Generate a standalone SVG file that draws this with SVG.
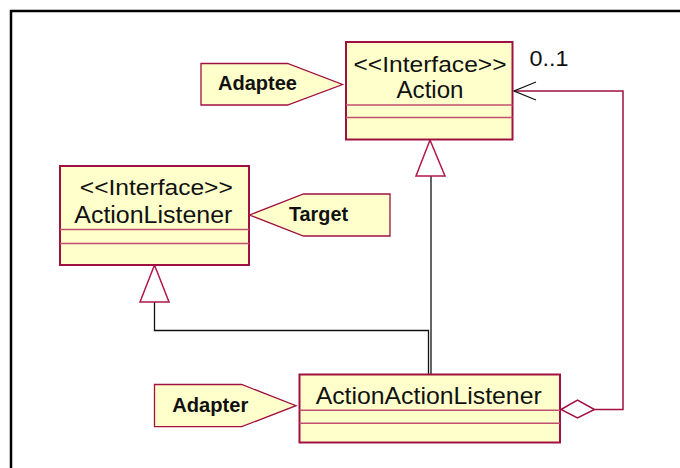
<svg xmlns="http://www.w3.org/2000/svg" width="680" height="468" viewBox="0 0 680 468">
<style>
.box{fill:#FFFFCC;stroke:#A01040;stroke-width:2}
.sep{stroke:#C05070;stroke-width:1.5}
.note{fill:#FFFFCC;stroke:#A01040;stroke-width:1.3}
.t{font-family:"Liberation Sans",Arial,sans-serif;font-size:22px;fill:#111}
.n{font-size:23px}
.b{font-family:"Liberation Sans",Arial,sans-serif;font-size:19.5px;font-weight:bold;fill:#111}
.gen{fill:none;stroke:#111;stroke-width:1.3}
.tri{fill:#fff;stroke:#B01848;stroke-width:1.5}
.assoc{fill:none;stroke:#A01040;stroke-width:1.5}
</style>
<rect width="680" height="468" fill="#fff"/>
<path d="M11 468 V11 H680" fill="none" stroke="#000" stroke-width="2.5"/>

<g id="connectors">
  <path class="gen" d="M154.5 302 V330.5 H428.5 V374"/>
  <path class="gen" d="M431 176 V374"/>
  <polygon class="tri" points="154.5,265 140,302 169,302"/>
  <polygon class="tri" points="430,140 416,176 445,176"/>
  <path class="assoc" d="M594.5 409.5 H623 V91 H514"/>
  <path d="M536 82 L514 91 L536 100" fill="none" stroke="#111" stroke-width="1.3"/>
  <polygon points="561,409.5 577.5,400 594.5,409.5 577.5,418" fill="#fff" stroke="#A01040" stroke-width="1.5"/>
  <text class="t" x="529.5" y="65.7" textLength="39" lengthAdjust="spacingAndGlyphs">0..1</text>
</g>

<g id="action">
  <rect class="box" x="346" y="42" width="166.5" height="97.5"/>
  <line class="sep" x1="346" y1="105" x2="512.5" y2="105"/>
  <line class="sep" x1="346" y1="117.5" x2="512.5" y2="117.5"/>
  <text class="t" x="430" y="71.7" text-anchor="middle" textLength="153" lengthAdjust="spacingAndGlyphs">&lt;&lt;Interface&gt;&gt;</text>
  <text class="t n" x="430" y="98.3" text-anchor="middle" textLength="67" lengthAdjust="spacingAndGlyphs">Action</text>
</g>

<g id="adaptee">
  <polygon class="note" points="201,63.5 287.5,63.5 342.5,84.5 287.5,105 201,105"/>
  <text class="b" x="218" y="89.5" textLength="79" lengthAdjust="spacingAndGlyphs">Adaptee</text>
</g>

<g id="actionlistener">
  <rect class="box" x="60" y="166" width="189" height="99"/>
  <line class="sep" x1="60" y1="229.5" x2="249" y2="229.5"/>
  <line class="sep" x1="60" y1="243.5" x2="249" y2="243.5"/>
  <text class="t" x="156.3" y="195" text-anchor="middle" textLength="153" lengthAdjust="spacingAndGlyphs">&lt;&lt;Interface&gt;&gt;</text>
  <text class="t n" x="153.3" y="222.7" text-anchor="middle" textLength="158" lengthAdjust="spacingAndGlyphs">ActionListener</text>
</g>

<g id="target">
  <polygon class="note" points="249.5,215 303.5,194 390,194 390,236 303.5,236"/>
  <text class="b" x="289" y="221" textLength="59" lengthAdjust="spacingAndGlyphs">Target</text>
</g>

<g id="actionactionlistener">
  <rect class="box" x="299.5" y="374.5" width="260.5" height="68"/>
  <line class="sep" x1="299.5" y1="410.3" x2="560" y2="410.3"/>
  <line class="sep" x1="299.5" y1="423.3" x2="560" y2="423.3"/>
  <text class="t" style="font-size:24px" x="428.7" y="404" text-anchor="middle" textLength="226" lengthAdjust="spacingAndGlyphs">ActionActionListener</text>
</g>

<g id="adapter">
  <polygon class="note" points="154.5,384.5 241.7,384.5 296,405.7 241.7,426.7 154.5,426.7"/>
  <text class="b" x="172.3" y="411.7" textLength="76" lengthAdjust="spacingAndGlyphs">Adapter</text>
</g>
</svg>
